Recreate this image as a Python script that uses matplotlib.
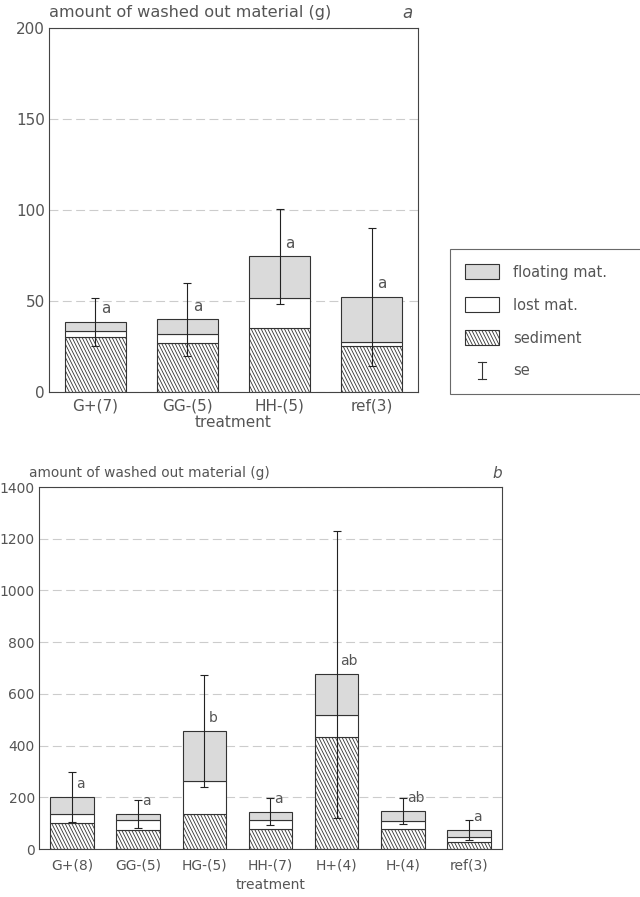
import matplotlib
matplotlib.use("Agg")
import matplotlib.pyplot as plt
import numpy as np
from matplotlib.patches import Patch
from matplotlib.lines import Line2D
from matplotlib.legend_handler import HandlerBase
from matplotlib.path import Path
from matplotlib import hatch as mhatch

# ---- data ----
cats_a = ["G+(7)", "GG-(5)", "HH-(5)", "ref(3)"]
sed_a = [30, 27, 35, 25.3]
lost_a = [3.5, 5, 16.5, 2]
float_a = [5, 8, 23, 25]
se_a = [13, 20, 26, 38]
letters_a = ["a", "a", "a", "a"]

cats_b = ["G+(8)", "GG-(5)", "HG-(5)", "HH-(7)", "H+(4)", "H-(4)", "ref(3)"]
sed_b = [100, 73, 135, 76, 434, 77, 28]
lost_b = [34, 39, 128, 36, 84, 32, 17]
float_b = [68, 23, 194, 32, 157, 38, 28]
se_b = [96.5, 53.5, 217, 53, 556, 51.5, 40]
letters_b = ["a", "a", "b", "a", "ab", "ab", "a"]

yticks_a = [0, 50, 100, 150, 200]
yticks_b = [0, 200, 400, 600, 800, 1000, 1200, 1400]


# steeper "\" hatch (slope ~63 degrees), tileable
class SteepSouthEastHatch(mhatch.HatchPatternBase):
    def __init__(self, hatch, density):
        n = int((hatch.count('\\') + hatch.count('x') + hatch.count('X')) * density)
        if n % 2:
            n += 1
        self.num_lines = n
        self.steps = np.arange(-0.5, 1.0, 1.0 / n) if n else np.array([])
        self.num_vertices = 2 * len(self.steps)

    def set_vertices_and_codes(self, vertices, codes):
        s = self.steps
        vertices[0::2, 0] = s
        vertices[0::2, 1] = 1.0
        vertices[1::2, 0] = s + 0.5
        vertices[1::2, 1] = 0.0
        codes[0::2] = Path.MOVETO
        codes[1::2] = Path.LINETO


try:
    mhatch._hatch_types = [SteepSouthEastHatch if c is mhatch.SouthEastHatch else c
                           for c in mhatch._hatch_types]
except Exception:
    pass

TXT = "#555555"
EDGE = "#333333"
FLOAT_C = "#dadada"
HATCH = "\\" * 5
plt.rcParams["font.family"] = ["DejaVu Sans"]
plt.rcParams["hatch.linewidth"] = 0.6
plt.rcParams["hatch.color"] = "#333333"

W, H = 640, 897
fig = plt.figure(figsize=(W / 100, H / 100), dpi=100)


def px_axes(l, t, r, b):
    return fig.add_axes([l / W, 1 - b / H, (r - l) / W, (b - t) / H])


def draw(ax, cats, sed, lost, flt, se, letters, yticks, ymax, fs, xpad, lpad):
    x = np.arange(len(cats))
    sed = np.array(sed, float)
    lost = np.array(lost, float)
    flt = np.array(flt, float)
    total = sed + lost + flt
    bw = 0.66
    ax.bar(x, sed, bw, color="white", edgecolor=EDGE, hatch=HATCH, lw=0.8, zorder=2)
    ax.bar(x, lost, bw, bottom=sed, color="white", edgecolor=EDGE, lw=0.8, zorder=2)
    ax.bar(x, flt, bw, bottom=sed + lost, color=FLOAT_C, edgecolor=EDGE, lw=0.8, zorder=2)
    ax.errorbar(x, total, yerr=se, fmt="none", ecolor="#222222", elinewidth=0.8,
                capsize=3, capthick=0.8, zorder=3)
    for xi, ti, lt in zip(x, total, letters):
        ax.text(xi + 0.06, ti + 0.036 * ymax, lt, ha="left", va="center",
                fontsize=fs, color=TXT, zorder=4)
    ax.set_xlim(-0.5, len(cats) - 0.5)
    ax.set_ylim(0, ymax)
    ax.set_xticks(x)
    ax.set_xticklabels(cats)
    ax.set_yticks(yticks)
    ax.tick_params(axis="y", length=0, labelsize=fs, labelcolor=TXT, pad=3)
    ax.tick_params(axis="x", length=0, labelsize=fs, labelcolor=TXT, pad=xpad)
    ax.yaxis.grid(True, linestyle=(0, (8, 4)), color="#cccccc", lw=0.8)
    ax.set_axisbelow(True)
    for s in ax.spines.values():
        s.set_color("#444444")
        s.set_linewidth(0.8)
    ax.set_xlabel("treatment", fontsize=fs, color=TXT, labelpad=lpad)


ax1 = px_axes(49, 28, 418, 392)
draw(ax1, cats_a, sed_a, lost_a, float_a, se_a, letters_a, yticks_a, 200, 11, 5, 1)
ax2 = px_axes(39, 487, 502, 849)
draw(ax2, cats_b, sed_b, lost_b, float_b, se_b, letters_b, yticks_b, 1400, 10, 7, 4)

fig.text(49 / W, 1 - 13 / H, "amount of washed out material (g)", ha="left", va="center",
         fontsize=11.6, color=TXT)
fig.text(407 / W, 1 - 13 / H, "a", ha="center", va="center", fontsize=12, color=TXT, style="italic")
fig.text(29 / W, 1 - 473 / H, "amount of washed out material (g)", ha="left", va="center",
         fontsize=9.9, color=TXT)
fig.text(497 / W, 1 - 473 / H, "b", ha="center", va="center", fontsize=11, color=TXT, style="italic")


class SEHandler(HandlerBase):
    def create_artists(self, legend, orig_handle, xdescent, ydescent, width, height, fontsize, trans):
        cx = width / 2 - xdescent
        y0 = -ydescent - 1
        y1 = height - ydescent + 1
        c = 3
        return [Line2D([cx, cx], [y0, y1], color="#333333", lw=0.8, transform=trans),
                Line2D([cx - c, cx + c], [y0, y0], color="#333333", lw=0.8, transform=trans),
                Line2D([cx - c, cx + c], [y1, y1], color="#333333", lw=0.8, transform=trans)]


class SEKey:
    pass


handles = [Patch(facecolor=FLOAT_C, edgecolor=EDGE, lw=0.8),
           Patch(facecolor="white", edgecolor=EDGE, lw=0.8),
           Patch(facecolor="white", edgecolor=EDGE, hatch=HATCH, lw=0.8),
           SEKey()]
labels = ["floating mat.", "lost mat.", "sediment", "se"]
leg = fig.legend(handles, labels, handler_map={SEKey: SEHandler()},
                 loc="upper left", bbox_to_anchor=(450 / W, 1 - 249 / H, 200 / W, 0.0),
                 mode="expand",
                 fontsize=10.5, frameon=True, fancybox=False, edgecolor="#444444",
                 handlelength=2.3, handleheight=1.2, handletextpad=1.0,
                 labelspacing=1.2, borderpad=1.05, borderaxespad=0)
leg.get_frame().set_linewidth(0.8)
for t in leg.get_texts():
    t.set_color(TXT)

fig.savefig("out.png", dpi=100)
